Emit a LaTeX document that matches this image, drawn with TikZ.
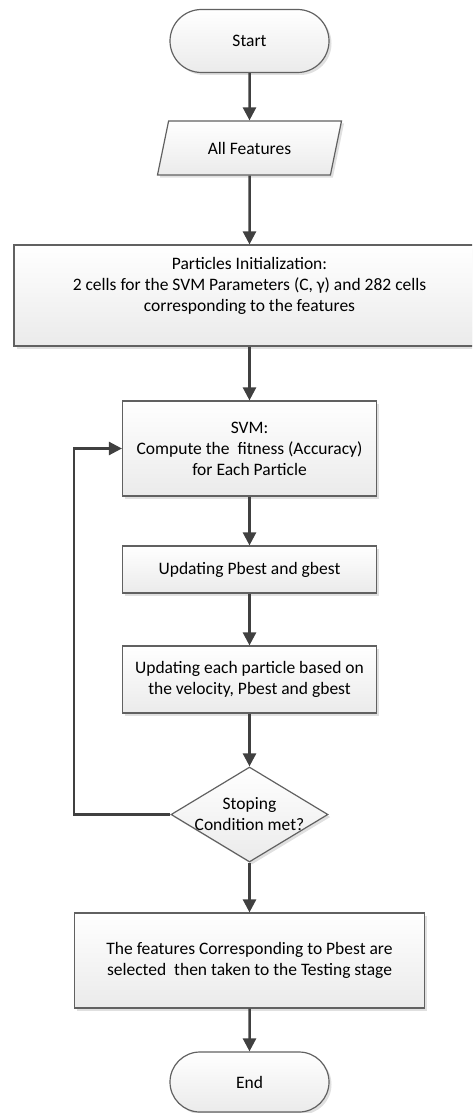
\documentclass[tikz,border=0pt]{standalone}
\usepackage{fontspec}
\setmainfont{Carlito}
\usetikzlibrary{shapes.geometric,shapes.misc,arrows.meta,shadows}

\tikzset{
	base/.style={draw=black!62,line width=1.2pt,top color=white,bottom color=black!8,
		drop shadow={shadow xshift=2.5pt,shadow yshift=-2.5pt,fill=black!12,opacity=1},
		align=center,inner sep=0pt,font=\fontsize{17.5}{21}\selectfont},
	terminal/.style={base,rounded rectangle,minimum width=159pt,minimum height=63pt},
	io/.style={base,trapezium,trapezium left angle=65,trapezium right angle=115,
		trapezium stretches=true,minimum width=185pt,minimum height=54pt},
	process/.style={base,rectangle,minimum width=254pt,minimum height=#1},
	decision/.style={base,diamond,minimum width=157pt,minimum height=95pt},
	flow/.style={draw=black!75,line width=2.5pt,-{Triangle[width=13pt,length=13pt]}}
}

\begin{document}
\begin{tikzpicture}[x=1pt,y=-1pt]
%	\draw[help lines, color=black!30, step=50pt,ultra thin](0,0)grid(472,1113);
	\useasboundingbox (0,0) rectangle (472,1113);
	\clip (0,0) rectangle (472,1113);
	
	\node (start) at (249.5,41) [terminal] {Start};
	\node (feat) at (249.5,148) [io] {All Features};
	\node (init) at (249.5,295.5) [process=101pt,minimum width=471pt]
		{Particles Initialization:\\2 cells for the SVM Parameters (C, γ) and 282 cells\\corresponding to the features\\[1pt]\mbox{}};
	\node (svm) at (249.5,448.5) [process=95pt]
		{SVM:\\Compute the\ \ fitness (Accuracy)\\for Each Particle};
	\node (pbest) at (249.5,569.5) [process=47pt] {Updating Pbest and gbest};
	\node (upd) at (249.5,679.5) [process=67pt]
		{Updating each particle based on\\the velocity, Pbest and gbest};
	\node (cond) at (249.5,814.5) [decision,label={[align=center,font=\fontsize{17.5}{21}\selectfont]center:Stoping\\Condition met?}] {};
	\node (sel) at (249.5,960.5) [process=95pt,minimum width=350pt]
		{The features Corresponding to Pbest are\\selected\ \ then taken to the Testing stage};
	\node (finish) at (249.5,1082) [terminal,minimum height=60pt] {End};
	
	\coordinate (back) at (74,814.5);
	
	\draw [flow] (start) -- (feat);
	\draw [flow] (feat) -- (init);
	\draw [flow] (init) -- (svm);
	\draw [flow] (svm) -- (pbest);
	\draw [flow] (pbest) -- (upd);
	\draw [flow] (upd) -- (cond);
	\draw [flow] (cond.west) -- (back) |- (svm.west);
	\draw [flow] (cond) -- (sel);
	\draw [flow] (sel) -- (finish);
\end{tikzpicture}
\end{document}
